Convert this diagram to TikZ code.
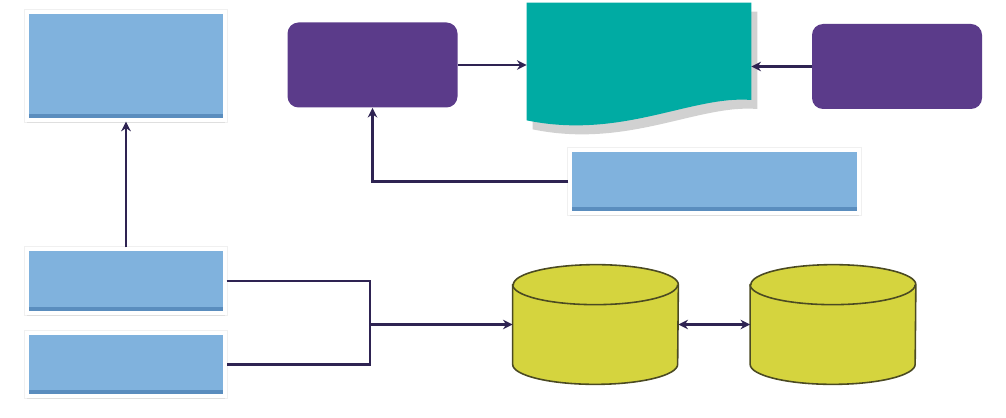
\documentclass[tikz,border=0pt]{standalone}
\usepackage{tikz}
\usetikzlibrary{arrows.meta,positioning,shapes.geometric,shadows}

\definecolor{boxblue}{HTML}{80B2DD}
\definecolor{bevelblue}{HTML}{5A8DBE}
\definecolor{procpurple}{HTML}{5B3B8A}
\definecolor{docteal}{HTML}{00ABA3}
\definecolor{dbyellow}{HTML}{D5D43E}
\definecolor{dbedge}{HTML}{4B4A22}
\definecolor{linknavy}{HTML}{2E2352}

\tikzset{
  bluebox/.style={draw=white,line width=1.8pt,fill=boxblue,
    preaction={draw=black!6,line width=3.4pt},
    drop shadow={shadow xshift=0pt,shadow yshift=-1.5pt,opacity=0.15},
    path picture={\fill[bevelblue] (path picture bounding box.south west) rectangle ([yshift=3.5pt]path picture bounding box.south east);}},
  procbox/.style={fill=procpurple,rounded corners=0.22cm,minimum width=3.4cm,minimum height=1.7cm},
  dbslot/.style={minimum width=3.3cm,minimum height=2.38cm,inner sep=0pt},
  dbbody/.style={draw=dbedge,line width=0.9pt,fill=dbyellow},
  link/.style={draw=linknavy,line width=1.6pt},
}

\begin{document}
\begin{tikzpicture}[>={Stealth[length=5.5pt,width=5.5pt]}]
\useasboundingbox (0,0) rectangle (20.12,8.34);
% left column
\node[bluebox,minimum width=3.96cm,minimum height=2.16cm] (store) at (2.52,7.02) {};
\node[bluebox,minimum width=3.96cm,minimum height=1.28cm] (inA) at (2.52,2.72) {};
\node[bluebox,minimum width=3.96cm,minimum height=1.26cm] (inB) at (2.52,1.05) {};
% top row
\node[procbox] (procL) at (7.45,7.04) {};
\node[procbox] (procR) at (17.94,7.01) {};
\node[minimum width=4.48cm,minimum height=2.34cm,inner sep=0pt] (report) at (12.78,7.11) {};
\fill[black,opacity=0.18] ([shift={(0.12,-0.18)}]report.north west) -- ([shift={(0.12,-0.18)}]report.north east) -- ([shift={(0.12,-0.18)}]report.east |- 0,6.34) .. controls ([shift={(0.12,-0.18)}]13.84,6.44) and ([shift={(0.12,-0.18)}]12.44,5.54) .. ([shift={(0.12,-0.18)}]report.south west) -- cycle;
\fill[docteal] (report.north west) -- (report.north east) -- (report.east |- 0,6.34) .. controls (13.84,6.44) and (12.44,5.54) .. (report.south west) -- cycle;
\node[bluebox,minimum width=5.78cm,minimum height=1.26cm] (query) at (14.29,4.71) {};
% databases
\node[dbslot] (dbA) at (11.91,1.85) {};
\node[dbslot] (dbB) at (16.66,1.85) {};
\foreach \db in {dbA,dbB} {
  \draw[dbbody] ([yshift=-0.4cm]\db.north west) -- ([yshift=0.4cm]\db.south west)
    arc[start angle=180,end angle=360,x radius=1.65cm,y radius=0.4cm]
    -- ([yshift=-0.4cm]\db.north east)
    arc[start angle=0,end angle=180,x radius=1.65cm,y radius=0.4cm] -- cycle;
  \draw[dbbody,fill=none] ([yshift=-0.4cm]\db.north west)
    arc[start angle=180,end angle=360,x radius=1.65cm,y radius=0.4cm];
}
\coordinate (merge) at (7.4,1.85);

% connectors
\draw[link,->] (inA) -- (store);
\draw[link,->] (procL) -- (procL -| report.west);
\draw[link,->] (procR) -- (procR -| report.east);
\draw[link,->] (query.west) -| (procL.south);
\draw[link] (inA.east) -| (merge) |- (inB.east);
\draw[link,->] (merge) -- (dbA);
\draw[link,<->] (dbA) -- (dbB);
\end{tikzpicture}
\end{document}
